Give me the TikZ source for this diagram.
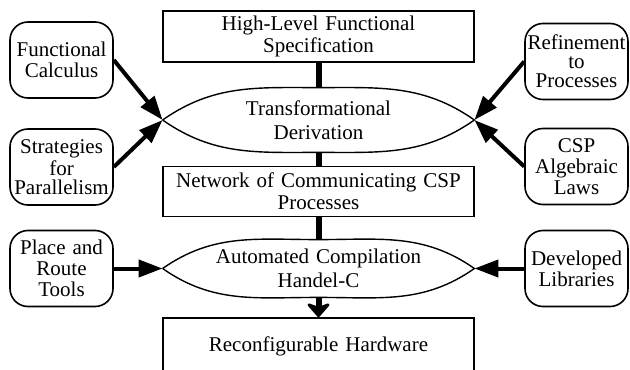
\documentclass[tikz,border=0pt]{standalone}
\usepackage{fontspec}
\setmainfont{Liberation Serif}
\usetikzlibrary{arrows.meta}

\tikzstyle{mainPart} = [draw, line width=0.9pt, minimum width=155.5pt, text width=150pt, text centered, inner sep=0pt, font=\fontsize{10.5}{11}\selectfont]
\tikzstyle{lensPart} = [inner sep=0pt, minimum width=155.5pt, text width=150pt, text centered, font=\fontsize{10.5}{11.8}\selectfont]
\tikzstyle{lensLine} = [line width=0.7pt]
\tikzstyle{inputPart} = [draw, line width=0.8pt, rounded corners=9pt, minimum width=51.5pt, minimum height=38pt, inner sep=0pt, text width=50pt, text centered, font=\fontsize{10.5}{10.5}\selectfont]
\tikzstyle{stemLine} = [line width=3pt]
\tikzstyle{feedArrow} = [line width=2pt, -{Triangle[length=12pt,width=8.5pt]}]

\begin{document}
\begin{tikzpicture}[x=0.5pt, y=-0.5pt]
		\path[use as bounding box, clip] (0,0) rectangle (630,369);

		% Central flow
		\node (spec) [mainPart, minimum height=25.5pt] at (318.5,36.5) {High-Level Functional\\Specification};
		\path (spec)+(0,83.5) node (derive) [lensPart, minimum height=32pt] {Transformational\\Derivation};
		\path (derive)+(0,71.5) node (network) [mainPart, minimum height=25pt] {Network of Communicating CSP\\Processes};
		\path (network)+(0,77) node (compile) [lensPart, minimum height=28.5pt] {Automated Compilation\\Handel-C};
		\path (compile)+(0,77.5) node (hardware) [mainPart, minimum height=28pt] {Reconfigurable Hardware};

		% Lens outlines round the two stages
		\draw[lensLine] (derive.west) to[out=35,in=180] (derive.north) to[out=0,in=145] (derive.east)
			to[out=-145,in=0] (derive.south) to[out=180,in=-35] (derive.west);
		\draw[lensLine] (compile.west) to[out=35,in=180] (compile.north) to[out=0,in=145] (compile.east)
			to[out=-145,in=0] (compile.south) to[out=180,in=-35] (compile.west);

		\path [draw, stemLine] (spec) -- (derive.north);
		\path [draw, stemLine] (derive.south) -- (network);
		\path [draw, stemLine] (network) -- (compile.north);
		\path [draw, stemLine, -{Stealth[length=8pt,width=14pt,inset=2.5pt,round]}] (compile.south) -- (hardware.north);

		% Inputs on the left
		\path (derive)+(-257,-60) node (calculus) [inputPart] {Functional\\Calculus};
		\path (derive)+(-257,47) node (strategies) [inputPart, font=\fontsize{10.5}{9.5}\selectfont] {Strategies\\for\\Parallelism};
		\path (compile)+(-257,0) node (placeRoute) [inputPart] {Place and\\Route\\Tools};

		% Inputs on the right
		\path (derive)+(258,-58.5) node (refinement) [inputPart, font=\fontsize{10.5}{9.5}\selectfont] {Refinement\\to\\Processes};
		\path (derive)+(258,46.5) node (cspLaws) [inputPart] {CSP\\Algebraic\\Laws};
		\path (compile)+(258,0) node (libraries) [inputPart] {Developed\\Libraries};

		\path [draw, feedArrow] (calculus.east) -- (derive.west);
		\path [draw, feedArrow] (strategies.east) -- (derive.west);
		\path [draw, feedArrow] (placeRoute) -- (compile.west);
		\path [draw, feedArrow] (refinement.west) -- (derive.east);
		\path [draw, feedArrow] (cspLaws.west) -- (derive.east);
		\path [draw, feedArrow] (libraries) -- (compile.east);
\end{tikzpicture}
\end{document}
